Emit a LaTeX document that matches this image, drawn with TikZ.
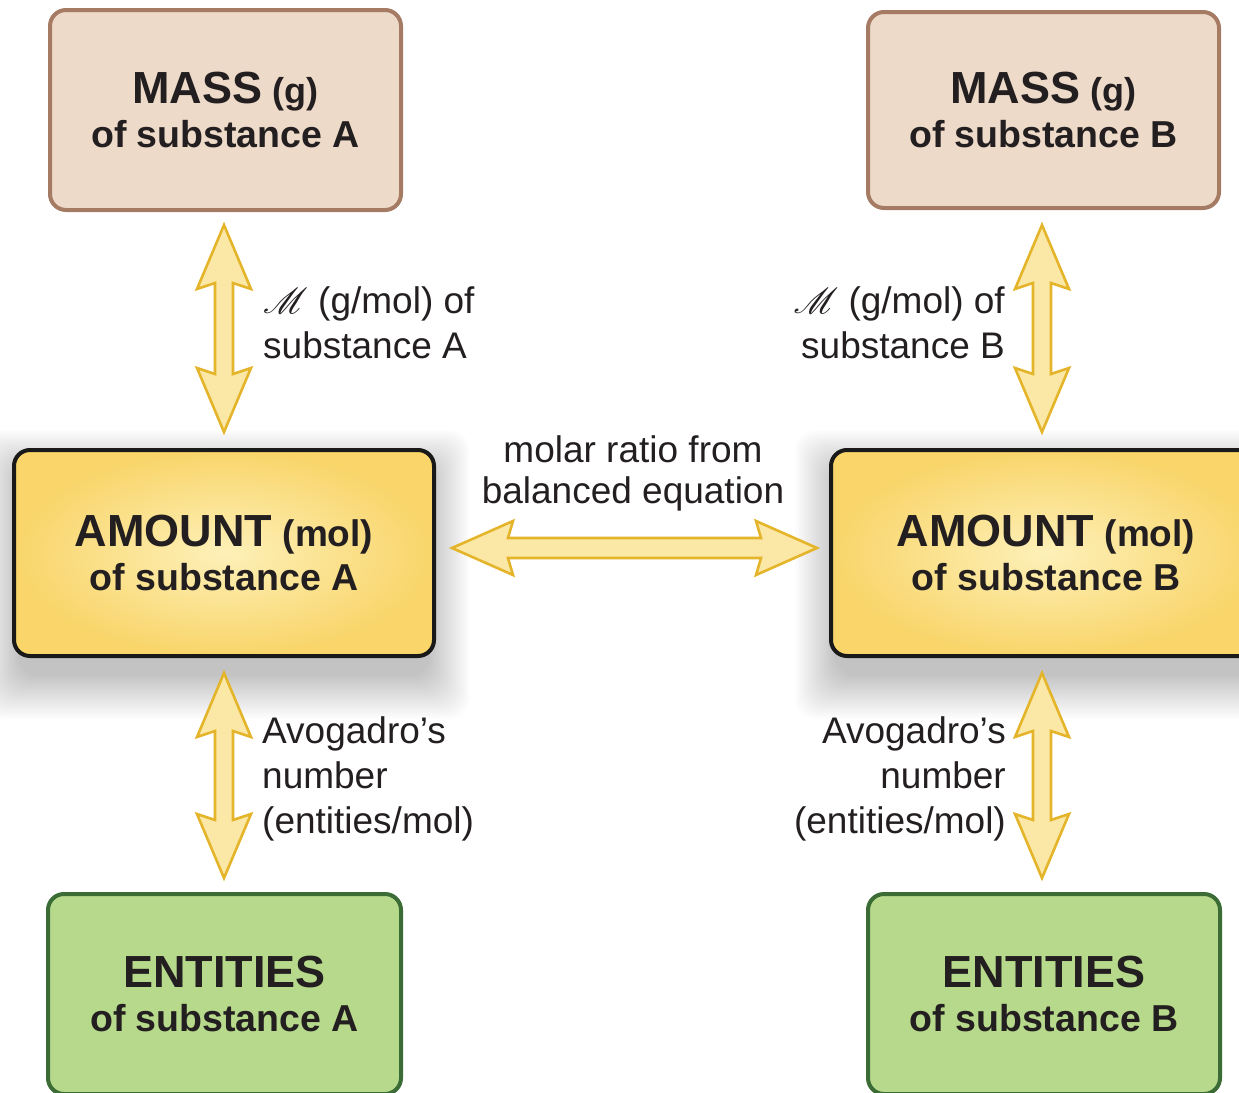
\documentclass[tikz,border=0pt]{standalone}
\usepackage{fontspec}
\setmainfont{Liberation Sans}
\usepackage{mathrsfs}
\usetikzlibrary{calc,backgrounds}
\definecolor{massfill}{HTML}{EEDAC8}
\definecolor{massdraw}{HTML}{A57B64}
\definecolor{amtin}{HTML}{FDF0B8}
\definecolor{amtout}{HTML}{F9D56A}
\definecolor{entfill}{HTML}{B7D98C}
\definecolor{entdraw}{HTML}{3B6C35}
\definecolor{arrfill}{HTML}{FBE8A6}
\definecolor{arrdraw}{HTML}{E4B52A}
\definecolor{txt}{HTML}{231F20}
\newcommand\vfat[2]{%
  \draw[fatarrow] (#1) -- ($(#1)+(27,64)$) -- ($(#1)+(9,58)$) -- ($(#2)+(9,-58)$) -- ($(#2)+(27,-64)$) -- (#2)
   -- ($(#2)+(-27,-64)$) -- ($(#2)+(-9,-58)$) -- ($(#1)+(-9,58)$) -- ($(#1)+(-27,64)$) -- cycle;}
\newcommand\hfat[2]{%
  \draw[fatarrow] (#1) -- ($(#1)+(61,-27)$) -- ($(#1)+(56,-10)$) -- ($(#2)+(-56,-10)$) -- ($(#2)+(-61,-27)$) -- (#2)
   -- ($(#2)+(-61,27)$) -- ($(#2)+(-56,10)$) -- ($(#1)+(56,10)$) -- ($(#1)+(61,27)$) -- cycle;}
\newcommand\softshadow[1]{%
  \foreach \i in {1,...,30}{%
    \fill[black, opacity=0.0065, rounded corners=20pt]
      ($(#1.north west)+(-1.4*\i+8,24-1.4*\i)$) rectangle ($(#1.south east)+(1.4*\i-8,16+1.5*\i)$);}}
\newcommand\scrM{\scalebox{1.45}{$\mathscr{M}$}}
\begin{document}
\begin{tikzpicture}[x=1pt,y=-1pt,
  box/.style={rounded corners=16pt, line width=4pt, inner sep=0pt, align=center, text=txt,
    font={\fontsize{37.5}{44}\selectfont\bfseries}},
  massbox/.style={box, fill=massfill, draw=massdraw},
  amtbox/.style={box, draw=black!90, inner color=amtin, outer color=amtout},
  entbox/.style={box, fill=entfill, draw=entdraw},
  lbl/.style={inner sep=0pt, text=txt, font={\fontsize{37}{45}\selectfont}},
  fatarrow/.style={draw=arrdraw, fill=arrfill, line width=2.6pt, line join=miter}
]
\path[use as bounding box] (0,0) rectangle (1239,1092);
\clip (0,0) rectangle (1239,1092);

% boxes
\node[massbox, minimum width=351, minimum height=200] (massA) at (225.5,110)
  {{\fontsize{45}{44}\selectfont MASS} {\fontsize{36}{44}\selectfont (g)}\\of substance A};
\node[massbox, minimum width=351, minimum height=196] (massB) at (1043.5,110)
  {{\fontsize{45}{44}\selectfont MASS} {\fontsize{36}{44}\selectfont (g)}\\of substance B};
\node[amtbox, minimum width=420, minimum height=206] (amtA) at (224,553)
  {{\fontsize{45}{44}\selectfont AMOUNT} {\fontsize{37}{44}\selectfont (mol)}\\of substance A};
\node[amtbox, minimum width=430, minimum height=206] (amtB) at (1046,553)
  {{\fontsize{45}{44}\selectfont AMOUNT} {\fontsize{37}{44}\selectfont (mol)}\\of substance B};
\node[entbox, minimum width=353, minimum height=200] (entA) at (224.5,994)
  {{\fontsize{45}{44}\selectfont ENTITIES}\\of substance A};
\node[entbox, minimum width=352, minimum height=200] (entB) at (1044,994)
  {{\fontsize{45}{44}\selectfont ENTITIES}\\of substance B};

\begin{pgfonlayer}{background}
  \softshadow{amtA}
  \softshadow{amtB}
\end{pgfonlayer}

% arrow tips
\coordinate (a1t) at ($(amtA.north |- massA.south)+(0,13)$);
\coordinate (a1b) at ($(amtA.north)+(0,-16)$);
\coordinate (a2t) at ($(1042,0 |- massB.south)+(0,15)$);
\coordinate (a2b) at ($(1042,0 |- amtB.north)+(0,-16)$);
\coordinate (a3t) at ($(amtA.south)+(0,15)$);
\coordinate (a3b) at ($(amtA.south |- entA.north)+(0,-14)$);
\coordinate (a4t) at ($(1042,0 |- amtB.south)+(0,15)$);
\coordinate (a4b) at ($(1042,0 |- entB.north)+(0,-14)$);
\coordinate (hl) at ($(amtA.east)+(16,-5)$);
\coordinate (hr) at ($(amtB.west)+(-12,-5)$);

\vfat{a1t}{a1b}
\vfat{a2t}{a2b}
\vfat{a3t}{a3b}
\vfat{a4t}{a4b}
\hfat{hl}{hr}

% labels (base anchor = last line)
\node[lbl, anchor=base west, align=left] (molA) at (263,358) {\scrM{} (g/mol) of\\substance A};
\node[lbl, anchor=base east, align=right] (molB) at (1005,358) {\scrM{} (g/mol) of\\substance B};
\node[lbl, anchor=base, align=center] (ratio) at (633,503) {molar ratio from\\[-4pt]balanced equation};
\node[lbl, anchor=base west, align=left] (avoA) at (262,833) {Avogadro’s\\number\\(entities/mol)};
\node[lbl, anchor=base east, align=right] (avoB) at (1006,833) {Avogadro’s\\number\\(entities/mol)};
\end{tikzpicture}
\end{document}
